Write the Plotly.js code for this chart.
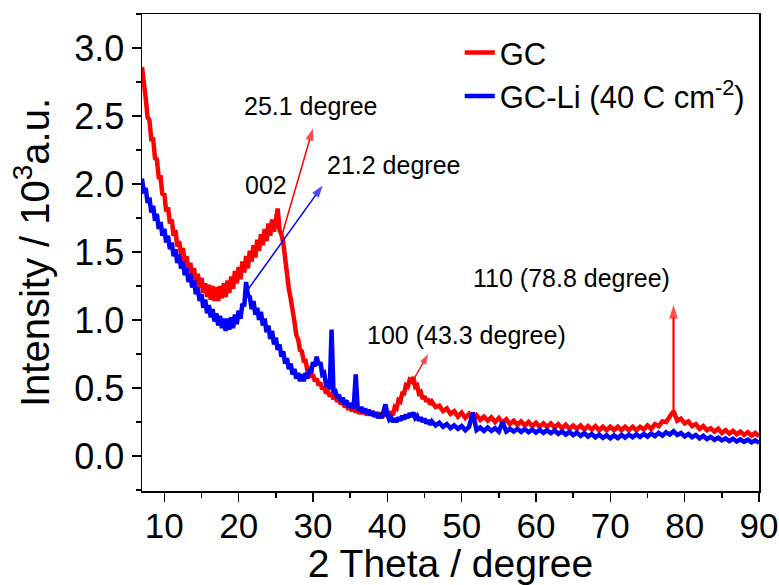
<!DOCTYPE html>
<html>
<head>
<meta charset="utf-8">
<script src="https://cdn.plot.ly/plotly-3.0.1.min.js"></script>
<style>html,body{margin:0;padding:0;background:#fff;}#chart{width:779px;height:585px;}</style>
</head>
<body>
<div id="chart"></div>
<script>
// Sampling grid (2 Theta, degree): 0.25 step from 7 to 46, then 0.5 step from 46.5 to 90
const gridFine = {start: 7, end: 46, step: 0.25};
const gridCoarse = {start: 46.5, end: 90, step: 0.5};

// GC intensity (10^3 a.u.)
const gcFine = [
  2.86, 2.70, 2.63, 2.49,
  2.47, 2.33, 2.33, 2.19,
  2.18, 2.05, 2.05, 1.92,
  1.93, 1.80, 1.83, 1.71,
  1.74, 1.62, 1.66, 1.54,
  1.58, 1.48, 1.53, 1.42,
  1.47, 1.36, 1.42, 1.32,
  1.38, 1.27, 1.34, 1.24,
  1.31, 1.20, 1.27, 1.17,
  1.26, 1.15, 1.25, 1.14,
  1.24, 1.14, 1.25, 1.16,
  1.27, 1.17, 1.29, 1.20,
  1.32, 1.23, 1.36, 1.27,
  1.39, 1.30, 1.43, 1.35,
  1.47, 1.38, 1.51, 1.43,
  1.55, 1.46, 1.59, 1.51,
  1.63, 1.55, 1.67, 1.58,
  1.71, 1.62, 1.74, 1.65,
  1.76, 1.82, 1.66, 1.63,
  1.57, 1.44, 1.37, 1.23,
  1.16, 1.04, 0.99, 0.89,
  0.86, 0.78, 0.77, 0.70,
  0.70, 0.63, 0.64, 0.58,
  0.60, 0.55, 0.57, 0.52,
  0.54, 0.49, 0.51, 0.46,
  0.48, 0.44, 0.46, 0.42,
  0.44, 0.40, 0.42, 0.38,
  0.40, 0.36, 0.38, 0.34,
  0.37, 0.33, 0.36, 0.32,
  0.35, 0.31, 0.34, 0.31,
  0.34, 0.30, 0.33, 0.30,
  0.33, 0.29, 0.32, 0.29,
  0.32, 0.28, 0.32, 0.29,
  0.32, 0.28, 0.33, 0.30,
  0.36, 0.35, 0.41, 0.40,
  0.46, 0.46, 0.52, 0.51,
  0.56, 0.55, 0.58, 0.51,
  0.52, 0.46, 0.47, 0.42,
  0.44, 0.40, 0.42, 0.38,
  0.40
];
const gcCoarse = [
  0.36, 0.37, 0.33, 0.35, 0.31, 0.33, 0.29, 0.32, 0.28, 0.31,
  0.27, 0.30, 0.265, 0.29, 0.26, 0.285, 0.25, 0.28, 0.245, 0.27,
  0.235, 0.26, 0.23, 0.255, 0.225, 0.25, 0.22, 0.245, 0.215, 0.24,
  0.215, 0.24, 0.21, 0.235, 0.205, 0.23, 0.20, 0.225, 0.20, 0.225,
  0.195, 0.22, 0.195, 0.22, 0.19, 0.215, 0.19, 0.215, 0.19, 0.215,
  0.19, 0.215, 0.19, 0.215, 0.19, 0.215, 0.195, 0.225, 0.20, 0.235,
  0.22, 0.255, 0.25, 0.29, 0.33, 0.26, 0.275, 0.24, 0.255, 0.22,
  0.235, 0.20, 0.22, 0.19, 0.205, 0.18, 0.20, 0.17, 0.19, 0.165,
  0.185, 0.16, 0.18, 0.155, 0.175, 0.15, 0.17, 0.145
];

// GC-Li (40 C cm-2) intensity (10^3 a.u.)
const gcLiFine = [
  2.04, 1.93, 1.97, 1.86,
  1.90, 1.79, 1.84, 1.73,
  1.78, 1.67, 1.72, 1.62,
  1.67, 1.57, 1.62, 1.52,
  1.57, 1.47, 1.52, 1.42,
  1.48, 1.38, 1.43, 1.33,
  1.38, 1.28, 1.34, 1.24,
  1.29, 1.19, 1.24, 1.14,
  1.19, 1.09, 1.15, 1.05,
  1.11, 1.02, 1.08, 0.99,
  1.05, 0.96, 1.03, 0.94,
  1.01, 0.92, 1.01, 0.93,
  1.02, 0.94, 1.04, 0.97,
  1.07, 1.01, 1.12, 1.10,
  1.28, 1.18, 1.17, 1.08,
  1.14, 1.04, 1.09, 1.00,
  1.06, 0.96, 1.01, 0.91,
  0.96, 0.86, 0.92, 0.82,
  0.87, 0.78, 0.82, 0.73,
  0.77, 0.68, 0.72, 0.64,
  0.68, 0.60, 0.64, 0.57,
  0.61, 0.55, 0.60, 0.55,
  0.61, 0.57, 0.64, 0.61,
  0.69, 0.66, 0.73, 0.67,
  0.69, 0.60, 0.61, 0.53,
  0.54, 0.49, 0.93, 0.48,
  0.48, 0.43, 0.45, 0.40,
  0.43, 0.38, 0.41, 0.36,
  0.39, 0.35, 0.38, 0.60,
  0.36, 0.33, 0.36, 0.32,
  0.35, 0.31, 0.34, 0.30,
  0.33, 0.29, 0.32, 0.28,
  0.31, 0.28, 0.33, 0.38,
  0.31, 0.27, 0.285, 0.25,
  0.275, 0.25, 0.285, 0.26,
  0.295, 0.27, 0.305, 0.28,
  0.315, 0.29, 0.32, 0.28,
  0.295, 0.26, 0.285, 0.25,
  0.275, 0.24, 0.265, 0.23,
  0.255
];
const gcLiCoarse = [
  0.225, 0.245, 0.215, 0.235, 0.205, 0.225, 0.20, 0.22, 0.19, 0.215,
  0.32, 0.19, 0.21, 0.185, 0.21, 0.185, 0.205, 0.18, 0.25, 0.18,
  0.20, 0.18, 0.20, 0.178, 0.198, 0.175, 0.195, 0.172, 0.193, 0.17,
  0.19, 0.168, 0.188, 0.163, 0.182, 0.158, 0.178, 0.153, 0.172, 0.148,
  0.168, 0.143, 0.162, 0.138, 0.158, 0.133, 0.153, 0.13, 0.152, 0.132,
  0.155, 0.135, 0.158, 0.138, 0.16, 0.14, 0.162, 0.143, 0.165, 0.146,
  0.17, 0.15, 0.175, 0.158, 0.182, 0.155, 0.17, 0.145, 0.162, 0.138,
  0.155, 0.13, 0.148, 0.125, 0.14, 0.12, 0.135, 0.115, 0.13, 0.11,
  0.127, 0.107, 0.123, 0.105, 0.12, 0.10, 0.115, 0.097
];

const seriesNames = ['GC', 'GC-Li (40 C cm<sup>-2</sup>)'];
const seriesColors = ['#ff0000', '#0000ff'];

// Peak marker arrows: [tail 2θ, tail I] -> [head 2θ, head I]
const arrowTailX = [25.8, 21.2, 43.5, 78.5];
const arrowTailY = [1.62, 1.22, 0.56, 0.30];
const arrowHeadX = [30.0, 31.3, 45.5, 78.5];
const arrowHeadY = [2.41, 1.99, 0.75, 1.11];
const arrowSeries = [0, 1, 0, 0];

// Peak labels
const labelText = ['25.1 degree', '21.2 degree', '002', '100 (43.3 degree)', '110 (78.8 degree)'];
const labelX = [29.65, 40.8, 23.7, 50.7, 64.8];
const labelY = [2.57, 2.14, 1.99, 0.89, 1.31];

function buildGrid(g) {
  const out = [];
  const n = Math.round((g.end - g.start) / g.step);
  for (let i = 0; i <= n; i++) out.push(+(g.start + i * g.step).toFixed(2));
  return out;
}
const twoTheta = buildGrid(gridFine).concat(buildGrid(gridCoarse));
const gc = gcFine.concat(gcCoarse);
const gcLi = gcLiFine.concat(gcLiCoarse);

const FONT = 'Liberation Sans, Arial, Helvetica, sans-serif';

const traces = [
  {x: twoTheta, y: gc, type: 'scatter', mode: 'lines', name: seriesNames[0],
   line: {color: seriesColors[0], width: 4.5}},
  {x: twoTheta, y: gcLi, type: 'scatter', mode: 'lines', name: seriesNames[1],
   line: {color: seriesColors[1], width: 4.5}}
];
const arrowWidths = [1.5, 1.5, 1.2, 2.2];
const arrowSizes = [13, 13, 11, 14];
for (let i = 0; i < arrowTailX.length; i++) {
  const c = seriesColors[arrowSeries[i]];
  traces.push({
    x: [arrowTailX[i], arrowHeadX[i]], y: [arrowTailY[i], arrowHeadY[i]],
    type: 'scatter', mode: 'lines+markers', showlegend: false, hoverinfo: 'skip',
    line: {color: c, width: arrowWidths[i]},
    marker: {symbol: 'arrow', angleref: 'previous', size: [0, arrowSizes[i]], color: c,
      line: {width: 0}}
  });
}

const annotations = labelText.map((t, i) => ({
  x: labelX[i], y: labelY[i], xref: 'x', yref: 'y', text: t, showarrow: false,
  font: {family: FONT, size: 25, color: '#000'}
}));

const layout = {
  width: 779, height: 585,
  margin: {l: 142, r: 20, t: 14, b: 94},
  paper_bgcolor: '#fff', plot_bgcolor: '#fff',
  font: {family: FONT, color: '#000'},
  showlegend: true,
  legend: {x: 0.515, y: 0.975, xanchor: 'left', yanchor: 'top',
    font: {family: FONT, size: 31, color: '#000'}, bgcolor: 'rgba(0,0,0,0)'},
  xaxis: {range: [7, 90], tick0: 0, dtick: 10, ticks: 'outside', ticklen: 9, tickwidth: 1.5,
    tickcolor: '#000', showline: true, linecolor: '#000', linewidth: 1.5, mirror: true,
    showgrid: false, zeroline: false, ticklabeloverflow: 'allow', ticklabelstandoff: -6,
    minor: {dtick: 5, ticks: 'outside', ticklen: 5, tickwidth: 1.5, tickcolor: '#000', showgrid: false},
    tickfont: {family: FONT, size: 35, color: '#000'},
    title: {text: '2 Theta / degree', font: {family: FONT, size: 39, color: '#000'}, standoff: 2}},
  yaxis: {range: [-0.257, 3.25], tick0: 0, dtick: 0.5, tickformat: '.1f', ticks: 'outside', ticklen: 9, tickwidth: 1.5,
    tickcolor: '#000', showline: true, linecolor: '#000', linewidth: 1.5, mirror: true,
    showgrid: false, zeroline: false, ticklabeloverflow: 'allow',
    minor: {dtick: 0.25, ticks: 'outside', ticklen: 5, tickwidth: 1.5, tickcolor: '#000', showgrid: false},
    tickfont: {family: FONT, size: 36, color: '#000'},
    title: {text: 'Intensity / 10<sup>3</sup>a.u.', font: {family: FONT, size: 40, color: '#000'}, standoff: 12}},
  annotations: annotations
};

Plotly.newPlot('chart', traces, layout, {displayModeBar: false, staticPlot: true});
</script>
</body>
</html>
